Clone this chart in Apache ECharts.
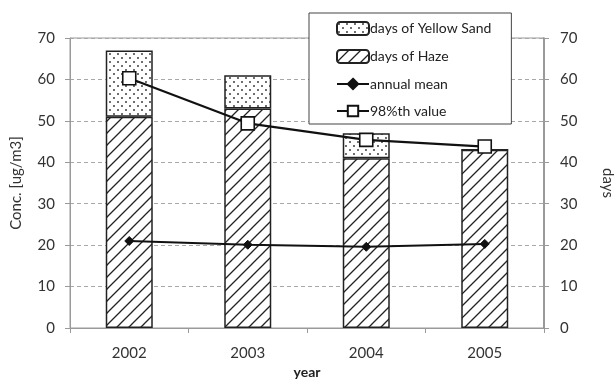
<!DOCTYPE html>
<html>
<head>
<meta charset="utf-8">
<script src="https://cdn.jsdelivr.net/npm/echarts@6/dist/echarts.min.js"></script>
<style>html,body{margin:0;padding:0;background:#fff;}#c{width:615px;height:381px;}</style>
</head>
<body>
<div id="c"></div>
<script>
var years = ['2002', '2003', '2004', '2005'];
var hazeDays = [51, 53, 41, 43];
var sandDays = [16, 8, 6, 0];
var annualMean = [21, 20.1, 19.6, 20.3];
var p98Value = [60.3, 49.4, 45.4, 43.8];
var yTicks = [0, 10, 20, 30, 40, 50, 60, 70];

function makeHatch() {
  var s = 12, c = document.createElement('canvas');
  c.width = s; c.height = s;
  var g = c.getContext('2d');
  g.fillStyle = '#fff'; g.fillRect(0, 0, s, s);
  g.strokeStyle = '#222'; g.lineWidth = 1.3;
  g.beginPath();
  g.moveTo(-2, s + 2); g.lineTo(s + 2, -2);
  g.moveTo(-2, 2); g.lineTo(2, -2);
  g.moveTo(s - 2, s + 2); g.lineTo(s + 2, s - 2);
  g.stroke();
  return c;
}
function makeDots() {
  var s = 8, c = document.createElement('canvas');
  c.width = s; c.height = s;
  var g = c.getContext('2d');
  g.fillStyle = '#fff'; g.fillRect(0, 0, s, s);
  g.fillStyle = '#333';
  g.beginPath(); g.arc(2, 2, 0.95, 0, Math.PI * 2); g.fill();
  g.beginPath(); g.arc(6, 6, 0.95, 0, Math.PI * 2); g.fill();
  return c;
}
var hatch = { image: makeHatch(), repeat: 'repeat' };
var dots = { image: makeDots(), repeat: 'repeat' };

var FONT = 'Lato';
var chart = echarts.init(document.getElementById('c'), null, { renderer: 'canvas' });
chart.setOption({
  backgroundColor: '#fff',
  animation: false,
  textStyle: { fontFamily: FONT },
  grid: { left: 70, right: 71, top: 38, bottom: 53, containLabel: false, outerBoundsMode: 'none',
    show: true, borderColor: '#9a9a9a', borderWidth: 1, backgroundColor: 'transparent' },
  legend: {
    orient: 'vertical', left: 309, top: 13,
    padding: [8, 20, 6, 27],
    itemWidth: 32, itemHeight: 13, itemGap: 13,
    backgroundColor: '#fff', borderColor: '#444', borderWidth: 1,
    textStyle: { fontFamily: FONT, fontSize: 14, color: '#222', padding: [0, 0, 0, -4] },
    data: ['days of Yellow Sand', 'days of Haze', 'annual mean', '98%th value']
  },
  xAxis: {
    type: 'category', data: years,
    name: 'year', nameLocation: 'middle', nameGap: 37,
    nameTextStyle: { fontFamily: FONT, fontSize: 14, fontWeight: 'bold', color: '#222' },
    axisLine: { lineStyle: { color: '#9a9a9a', width: 1 } },
    axisTick: { show: true, length: 5, lineStyle: { color: '#9a9a9a' } },
    axisLabel: { fontFamily: FONT, fontSize: 15, color: '#333', margin: 18 }
  },
  yAxis: [{
    type: 'value', min: 0, max: 70, interval: 10,
    name: 'Conc. [ug/m3]', nameLocation: 'middle', nameGap: 46,
    nameTextStyle: { fontFamily: FONT, fontSize: 15, color: '#333' },
    axisLine: { show: true, lineStyle: { color: '#9a9a9a' } },
    axisTick: { show: true, length: 5, lineStyle: { color: '#9a9a9a' } },
    axisLabel: { fontFamily: FONT, fontSize: 15, color: '#333', margin: 15,
      formatter: function (v) { return yTicks.indexOf(v) >= 0 ? String(v) : ''; } },
    splitLine: { show: true, lineStyle: { color: '#a8a8a8', type: [4, 3], width: 1 } }
  }, {
    type: 'value', min: 0, max: 70, interval: 10, position: 'right',
    name: 'days', nameLocation: 'middle', nameGap: 56, nameRotate: -90,
    nameTextStyle: { fontFamily: FONT, fontSize: 15, color: '#333' },
    axisLine: { show: true, lineStyle: { color: '#888', width: 1.5 } },
    axisTick: { show: true, length: 5, lineStyle: { color: '#9a9a9a' } },
    axisLabel: { fontFamily: FONT, fontSize: 15, color: '#333', margin: 16 },
    splitLine: { show: false }
  }],
  series: [{
    name: 'days of Haze', type: 'bar', stack: 'd', yAxisIndex: 1, barWidth: 47,
    data: hazeDays,
    itemStyle: { color: hatch, borderColor: '#222', borderWidth: 1.5 }
  }, {
    name: 'days of Yellow Sand', type: 'bar', stack: 'd', yAxisIndex: 1, barWidth: 47,
    data: sandDays,
    itemStyle: { color: dots, borderColor: '#222', borderWidth: 1.5 }
  }, {
    name: 'annual mean', type: 'line', yAxisIndex: 0, data: annualMean,
    symbol: 'diamond', symbolSize: 9, z: 5,
    lineStyle: { color: '#111', width: 2 },
    itemStyle: { color: '#111', borderColor: '#111', borderWidth: 1 }
  }, {
    name: '98%th value', type: 'line', yAxisIndex: 0, data: p98Value,
    symbol: 'rect', symbolSize: 13, z: 6,
    lineStyle: { color: '#111', width: 2.2 },
    itemStyle: { color: '#fff', borderColor: '#111', borderWidth: 1.6 }
  }]
});
</script>
</body>
</html>
